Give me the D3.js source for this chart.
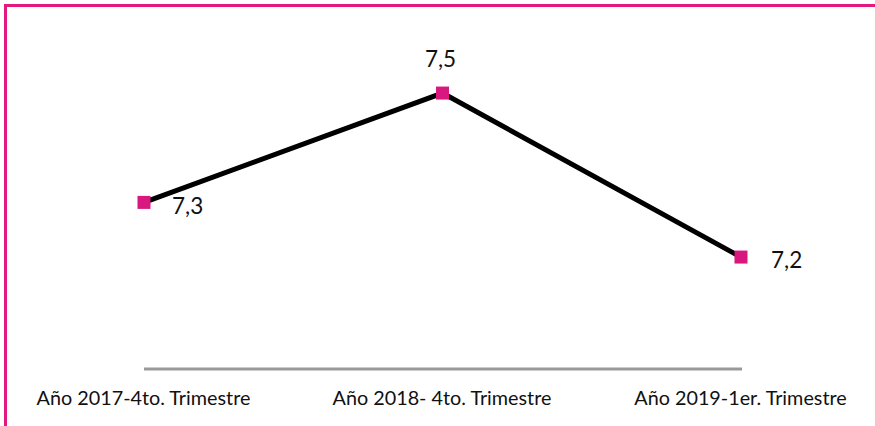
<!DOCTYPE html>
<html>
<head>
<meta charset="utf-8">
<script src="https://cdn.jsdelivr.net/npm/d3@7/dist/d3.min.js"></script>
<style>
  html, body { margin: 0; padding: 0; background: #ffffff; overflow: hidden; }
  svg { display: block; }
  text { font-family: Lato, "Open Sans", sans-serif; fill: #111; }
</style>
</head>
<body>
<svg id="chart" width="875" height="426"></svg>
<script>
// Tasa por trimestre
const categories = ["Año 2017-4to. Trimestre", "Año 2018- 4to. Trimestre", "Año 2019-1er. Trimestre"];
const values = [7.3, 7.5, 7.2];
const valueLabels = ["7,3", "7,5", "7,2"];

const W = 875, H = 426;
const svg = d3.select("#chart");

// Frame around the chart area
svg.append("rect")
  .attr("x", 5.5).attr("y", 5.5)
  .attr("width", W + 20).attr("height", H + 20)
  .attr("fill", "none")
  .attr("stroke", "#e3197f")
  .attr("stroke-width", 3);

const x = d3.scalePoint().domain(categories).range([144, 741]);
const y = d3.scaleLinear().domain([7.0, 7.6]).range([366.4, 38.4]);
const axisY = 369;

// Category axis: baseline spans the first to the last category
const xAxis = d3.axisBottom(x).tickSize(0).tickPadding(0);
const gx = svg.append("g").attr("transform", `translate(0,${axisY})`).call(xAxis);
gx.select(".domain")
  .attr("d", `M${x(categories[0])},0H${x(categories[categories.length - 1]) + 1}`)
  .attr("stroke", "#999")
  .attr("stroke-width", 3);
gx.selectAll(".tick text")
  .attr("x", -1)
  .attr("y", 35.5)
  .attr("dy", 0)
  .style("font-family", "Lato, 'Open Sans', sans-serif")
  .style("font-size", "19.8px")
  .style("fill", "#111");

const pts = categories.map((c, i) => ({ c, v: values[i], label: valueLabels[i], i }));

// Series line
svg.append("path")
  .datum(pts)
  .attr("fill", "none")
  .attr("stroke", "#000")
  .attr("stroke-width", 5)
  .attr("stroke-linejoin", "miter")
  .attr("d", d3.line().x(d => x(d.c)).y(d => y(d.v)));

// Square markers
const ms = 13;
svg.selectAll("rect.marker")
  .data(pts)
  .join("rect")
  .attr("class", "marker")
  .attr("x", d => x(d.c) - ms / 2)
  .attr("y", d => y(d.v) - ms / 2)
  .attr("width", ms).attr("height", ms)
  .attr("fill", "#d8177f");

// Value labels: right of the point, except the peak which sits above
const labelPos = [
  { dx: 28, dy: 12, anchor: "start" },
  { dx: -2, dy: -26, anchor: "middle" },
  { dx: 30, dy: 11, anchor: "start" }
];
svg.selectAll("text.vlabel")
  .data(pts)
  .join("text")
  .attr("class", "vlabel")
  .attr("x", d => x(d.c) + labelPos[d.i].dx)
  .attr("y", d => y(d.v) + labelPos[d.i].dy)
  .attr("text-anchor", d => labelPos[d.i].anchor)
  .style("font-size", "22.5px")
  .text(d => d.label);
</script>
</body>
</html>
